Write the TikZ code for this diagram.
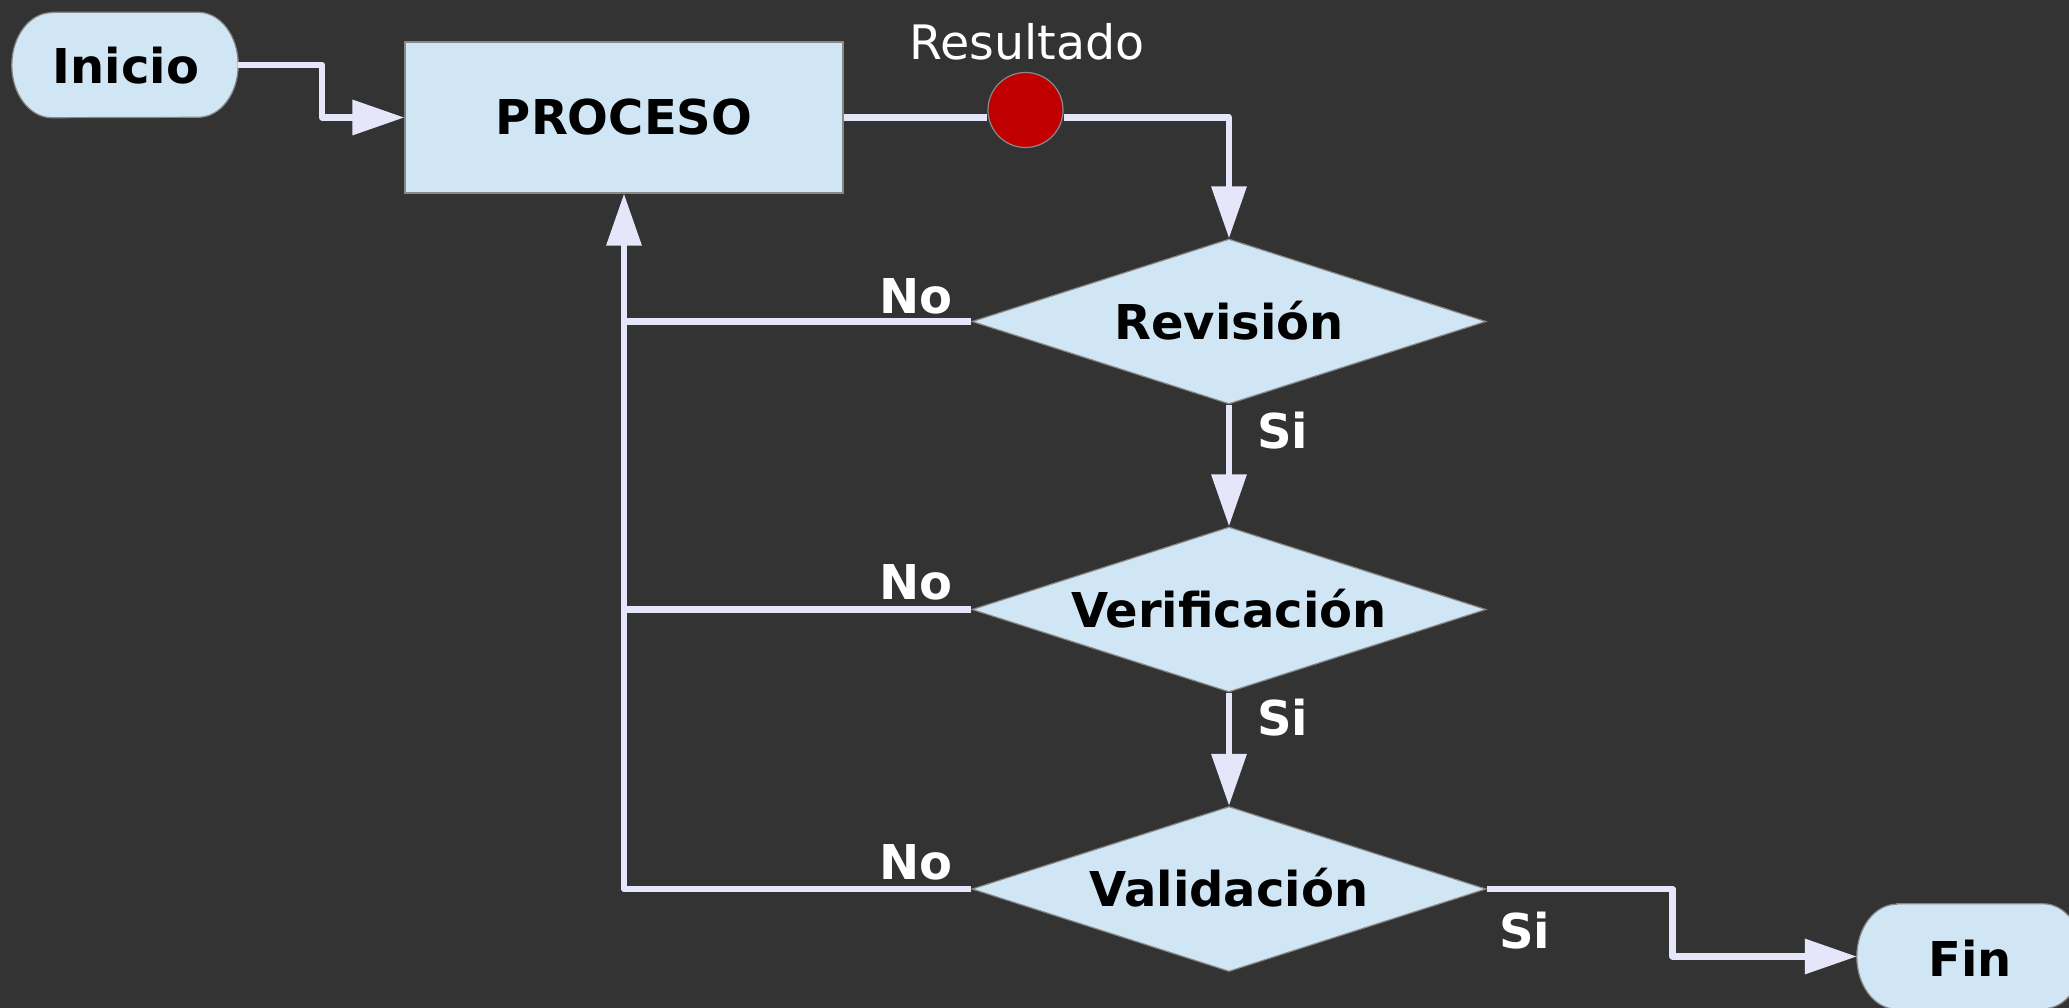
\documentclass[tikz,border=0pt]{standalone}
\usepackage{fontspec}
\setmainfont{DejaVu Sans}
\usetikzlibrary{shapes.geometric,arrows.meta,calc}
\definecolor{bgc}{HTML}{333333}
\definecolor{nodefill}{HTML}{D0E6F4}
\definecolor{nodeedge}{HTML}{888888}
\definecolor{linec}{HTML}{E6E6FA}
\definecolor{redc}{HTML}{C00000}
\newcommand\termshape[1]{%
  \filldraw[fill=nodefill, draw=nodeedge, line width=1.2pt]
    ($(#1.north west)+(40,0)$) -- ($(#1.north east)+(-40,0)$)
    arc[start angle=90,end angle=-90,x radius=40pt,y radius=52.5pt]
    -- ($(#1.south west)+(40,0)$)
    arc[start angle=270,end angle=90,x radius=40pt,y radius=52.5pt] -- cycle;}
\begin{document}
\begin{tikzpicture}[x=1pt,y=-1pt,
  every node/.style={font=\fontsize{48pt}{57pt}\selectfont\bfseries},
  shapebox/.style={fill=nodefill, draw=nodeedge, line width=1.2pt, text=black,
    text height=35pt, text depth=0pt, inner sep=0pt},
  procbox/.style={shapebox, rectangle, minimum width=438pt, minimum height=151pt},
  decision/.style={shapebox, diamond, aspect=3.115, minimum width=514pt, minimum height=165pt},
  termbox/.style={inner sep=0pt, minimum width=226pt, minimum height=105pt},
  termtext/.style={text=black, text height=35pt, text depth=0pt, inner sep=0pt},
  conn/.style={draw=linec, line width=6.5pt, line join=round},
  arr/.style={conn, -{Triangle[length=52pt,width=34pt]}},
  elabel/.style={text=white, inner sep=0pt, anchor=base west},
]
\fill[bgc] (0,0) rectangle (2069,1008);
\useasboundingbox (0,0) rectangle (2069,1008);

% terminals
\node[termbox] (ini) at (125,65) {};
\termshape{ini}
\node[termtext] (initxt) at ($(ini.center)+(1,1)$) {Inicio};
\node[termbox] (fin) at (1970,956.5) {};
\termshape{fin}
\node[termtext] (fintxt) at ($(fin.center)+(0,2)$) {Fin};

% process and decisions
\node[procbox] (proc) at (624,117.5) {PROCESO};
\node[decision] (rev) at (1229,321.5) {Revisión};
\node[decision] (ver) at (1229,609.5) {Verificación};
\node[decision] (val) at (1229,889) {Validación};

% result marker
\node[circle, fill=redc, draw=nodeedge, line width=1.2pt, minimum size=75pt, inner sep=0pt] (res) at (1025.5,110) {};
\node[text=white, inner sep=0pt, anchor=base west, font=\fontsize{47.5pt}{56pt}\selectfont] (resl) at (909,60) {Resultado};

% connectors
\draw[arr] (ini.east) -- ++(84,0) |- (proc.west);
\draw[conn] (proc.east) -- (proc.east -| res.west);
\draw[arr] (proc.east -| res.east) -| (rev.north);
\draw[conn] (rev.west) -- (rev.west -| proc.south);
\draw[conn] (ver.west) -- (ver.west -| proc.south);
\draw[arr] (val.west) -| (proc.south);
\draw[arr] (rev.south) -- (ver.north);
\draw[arr] (ver.south) -- (val.north);
\draw[arr] (val.east) -- ++(186,0) |- (fin.west);

% edge labels
\node[elabel] (no1) at (879,313) {No};
\node[elabel] (no2) at (879,599) {No};
\node[elabel] (no3) at (879,879) {No};
\node[elabel] (si1) at (1257,448) {Si};
\node[elabel] (si2) at (1257,735) {Si};
\node[elabel] (si3) at (1499,948) {Si};
\end{tikzpicture}
\end{document}
